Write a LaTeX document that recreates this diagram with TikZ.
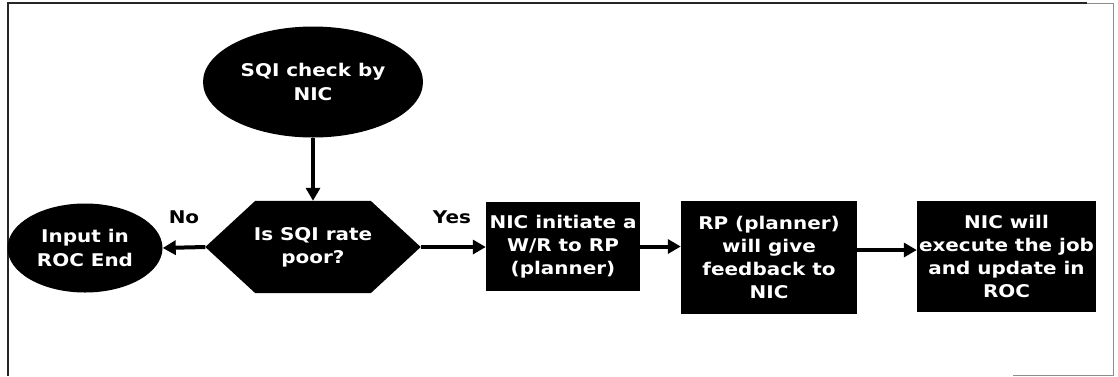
\documentclass[tikz,border=0pt]{standalone}
\usepackage{fontspec}
\setmainfont{DejaVu Sans}[FakeStretch=1.14]
\usetikzlibrary{arrows.meta,shapes.geometric,backgrounds}

\begin{document}
\begin{tikzpicture}[x=1pt,y=-1pt,
  every node/.style={font=\bfseries\fontsize{17.5}{23.3}\selectfont, align=center, inner sep=0pt},
  term/.style={ellipse, fill=black, text=white},
  proc/.style={rectangle, fill=black, text=white},
  decbox/.style={rectangle, text=white, minimum width=215pt, minimum height=92pt},
  flow/.style={line width=4pt, -{Triangle[length=13pt,width=14pt]}},
  lbl/.style={text=black},
  frameline/.style={line width=2pt, draw=black!85}]
\useasboundingbox (0,0) rectangle (1118,376);

% outer frame
\draw[frameline] (7,3) -- (1087,3);
\draw[frameline] (8,3) -- (8,376);
\draw[black!45, line width=0.8pt] (1087,3) -- (1113,3) -- (1113,375) -- (1013,375);

% nodes
\node[term, minimum width=220pt, minimum height=111pt] (sqi) at (313,82) {SQI check by\\NIC};
\node[decbox] (dec) at (313,247) {Is SQI rate\\poor?};
\node[term, minimum width=155pt, minimum height=89pt] (inp) at (85,248) {Input in\\ROC End};
\node[proc, minimum width=154pt, minimum height=89pt] (wr) at (563,246.5) {NIC initiate a\\W/R to RP\\(planner)};
\node[proc, minimum width=176pt, minimum height=113pt] (fb) at (769,257.5) {RP (planner)\\will give\\feedback to\\NIC};
\node[proc, minimum width=179pt, minimum height=111pt] (job) at (1006.5,256.5) {NIC will\\execute the job\\and update in\\ROC};

% hexagonal decision shape behind its text
\begin{scope}[on background layer]
  \fill (dec.west) -- ([xshift=50pt]dec.north west) -- ([xshift=-50pt]dec.north east)
        -- (dec.east) -- ([xshift=-50pt]dec.south east) -- ([xshift=50pt]dec.south west) -- cycle;
\end{scope}

% branch labels
\node[lbl] (no) at (184,217) {No};
\node[lbl] (yes) at (452,217) {Yes};

% connectors
\draw[flow] (sqi.south) -- (dec.north);
\draw[flow] (dec.west) -- (inp.east);
\draw[flow] (dec.east) -- (dec.east -| wr.west);
\draw[flow] (wr.east) -- (wr.east -| fb.west);
\draw[flow] ([yshift=7.5pt]fb.east) -- ([yshift=7.5pt]fb.east -| job.west);
\end{tikzpicture}
\end{document}
